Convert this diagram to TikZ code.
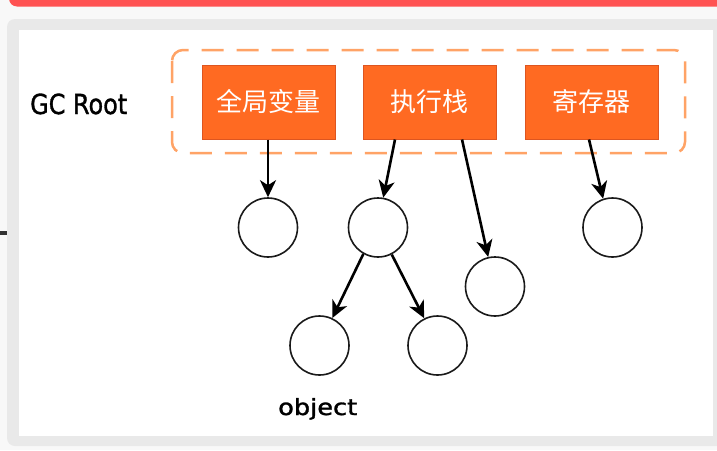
\documentclass[tikz,border=0pt]{standalone}
\usepackage{fontspec}
\usetikzlibrary{arrows.meta}
\newfontfamily\cjk{Noto Sans CJK SC}
\newfontfamily\labelfont[FakeBold=1.3]{DejaVu Sans}
\definecolor{pagebg}{HTML}{F8F8F8}
\definecolor{redbar}{HTML}{FF5252}
\definecolor{panelgray}{HTML}{E9E9E9}
\definecolor{boxfill}{HTML}{FF6A22}
\definecolor{boxline}{HTML}{DD5520}
\definecolor{dashorange}{HTML}{FFA366}
\definecolor{ink}{HTML}{1A1A1A}
\tikzset{
  rootbox/.style={draw=boxline, fill=boxfill, line width=1pt, minimum width=133pt, minimum height=74pt, inner sep=0pt, text=white, font=\cjk\fontsize{26}{26}\selectfont},
  obj/.style={circle, draw=ink, line width=1.6pt, minimum size=59pt, inner sep=0pt},
  ref/.style={draw=black, line width=2.6pt, -{Stealth[length=17pt,width=16pt,inset=5pt]}},
  plain/.style={inner sep=0pt, text=black, font=\labelfont}
}
\begin{document}
\begin{tikzpicture}[x=1pt,y=-1pt]
\useasboundingbox (0,0) rectangle (717,450);
\clip (0,0) rectangle (717,450);
% page background and frame
\fill[pagebg] (0,0) rectangle (717,450);
\fill[redbar, rounded corners=8pt] (9,-20) rectangle (740,6.5);
\fill[panelgray, rounded corners=8pt] (7,19) rectangle (740,446);
\fill[white] (19,30) rectangle (713,436);
\fill[black!80] (0,231) rectangle (7,235);
% GC root group
\draw[dashorange, line width=2.5pt, dash pattern=on 22pt off 13pt, rounded corners=11pt] (172,50) rectangle (685,153);
\node[rootbox] (b1) at (268.5,102) {全局变量};
\node[rootbox] (b2) at (429.5,102) {执行栈};
\node[rootbox] (b3) at (591.5,102) {寄存器};
\node[plain, anchor=base west] (gc) at (30,114) {\resizebox{97pt}{20.5pt}{GC Root}};
% objects
\node[obj] (c1) at (268,227.5) {};
\node[obj] (c2) at (378,227.5) {};
\node[obj] (c3) at (612.5,227.5) {};
\node[obj] (c4) at (495,286.5) {};
\node[obj] (c5) at (319.5,345.5) {};
\node[obj] (c6) at (437.5,345.5) {};
\node[plain, anchor=base west] (objlabel) at (278,415) {\resizebox{79pt}{17pt}{object}};
% references
\draw[ref] (c1.north |- b1.south) -- (c1.north);
\draw[ref] ([xshift=-34.5pt]b2.south) -- (c2.80);
\draw[ref] ([xshift=32.5pt]b2.south) -- (c4.103);
\draw[ref] ([xshift=-2.5pt]b3.south) -- (c3.108);
\draw[ref] (c2.241) -- (c5.65);
\draw[ref] (c2.297) -- (c6.116);
\end{tikzpicture}
\end{document}
